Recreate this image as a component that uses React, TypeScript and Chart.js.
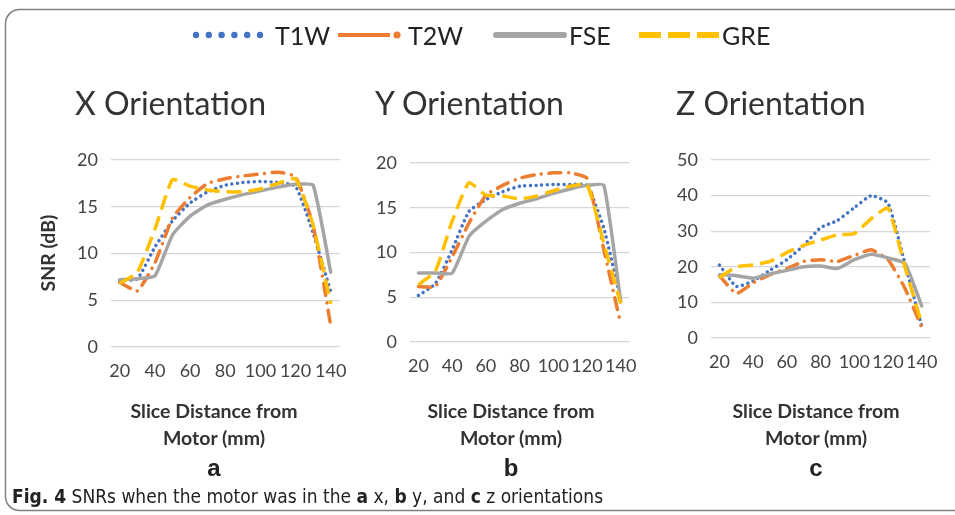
import React, { useEffect, useRef } from 'react';
import { Chart, registerables } from 'chart.js';

Chart.register(...registerables);

// ---------- data ----------
const categories = ['20', '30', '40', '50', '60', '70', '80', '90', '100', '110', '120', '130', '140'];
const shownTicks = ['20', '40', '60', '80', '100', '120', '140'];
const seriesNames = ['T1W', 'T2W', 'FSE', 'GRE'];

const xT1W = [7.1, 7.3, 10.7, 13.5, 15.4, 16.6, 17.3, 17.6, 17.7, 17.6, 17.2, 12.2, 5.9];
const xT2W = [6.9, 6.0, 9.0, 13.8, 16.0, 17.5, 18.0, 18.3, 18.5, 18.7, 18.2, 13.0, 2.3];
const xFSE = [7.2, 7.3, 7.6, 12.0, 14.0, 15.2, 15.8, 16.3, 16.7, 17.1, 17.4, 17.3, 8.0];
const xGRE = [6.8, 8.0, 12.6, 17.9, 17.2, 16.8, 16.6, 16.6, 16.9, 17.5, 18.0, 13.0, 4.6];

const yT1W = [5.2, 6.5, 10.3, 14.6, 15.9, 16.8, 17.4, 17.5, 17.6, 17.6, 17.5, 12.7, 4.7];
const yT2W = [6.2, 6.2, 9.5, 13.3, 16.4, 17.5, 18.3, 18.7, 18.9, 18.9, 18.3, 10.3, 2.0];
const yFSE = [7.7, 7.7, 7.7, 11.8, 13.5, 14.8, 15.5, 16.0, 16.6, 17.1, 17.5, 17.5, 4.5];
const yGRE = [6.4, 7.9, 13.5, 17.8, 16.4, 16.3, 16.0, 16.3, 16.9, 17.4, 17.6, 11.0, 4.3];

const zT1W = [20.5, 14.5, 16.0, 19.0, 22.0, 26.0, 31.0, 33.0, 36.6, 40.0, 37.9, 21.0, 3.3];
const zT2W = [17.5, 12.5, 15.5, 17.8, 19.5, 21.5, 22.0, 21.5, 23.2, 24.8, 22.0, 14.0, 3.0];
const zFSE = [17.8, 17.5, 16.8, 18.0, 19.0, 20.0, 20.2, 19.5, 22.0, 23.5, 22.5, 21.0, 9.0];
const zGRE = [17.0, 20.0, 20.5, 21.5, 24.0, 26.0, 27.5, 29.0, 29.3, 33.5, 36.5, 20.0, 4.0];

const xTicksMax = 20;
const xTicksStep = 5;
const zTicksMax = 50;
const zTicksStep = 10;

// ---------- styles ----------
const COLORS = ['#4472C4', '#ED7D31', '#A5A5A5', '#FFC000'];
const DASHES: number[][] = [[0.01, 5.6], [12, 7.5, 0.01, 7.5], [], [15, 7]];
const CAPS = ['round', 'round', 'round', 'butt'];
const FONT = 'Lato, "Open Sans", sans-serif';

const YW = 60;
const PT = 25;
const PR = 16;
const XH = 48;

type Box = { left: number; right: number; top: number; bottom: number };

function LineChart({ box, series, yMax, yStep }: { box: Box; series: number[][]; yMax: number; yStep: number }) {
  const ref = useRef<HTMLCanvasElement | null>(null);
  const cLeft = box.left - YW;
  const cTop = box.top - PT;
  const cWidth = box.right - cLeft + PR;
  const cHeight = box.bottom - cTop + XH;

  useEffect(() => {
    if (!ref.current) return;
    const chart = new Chart(ref.current, {
      type: 'line',
      data: {
        labels: categories,
        datasets: series.map((d, i) => ({
          label: seriesNames[i],
          data: d,
          borderColor: COLORS[i],
          backgroundColor: COLORS[i],
          borderWidth: 3.5,
          borderDash: DASHES[i],
          borderCapStyle: CAPS[i] as any,
          borderJoinStyle: 'round' as any,
          pointRadius: 0,
          tension: 0.15,
          fill: false,
          order: 3 - i,
        })),
      },
      options: {
        animation: false,
        responsive: false,
        maintainAspectRatio: false,
        devicePixelRatio: 1,
        layout: { padding: { top: PT, right: PR, left: 0, bottom: 0 } },
        plugins: { legend: { display: false }, tooltip: { enabled: false }, title: { display: false } },
        scales: {
          x: {
            type: 'category',
            offset: true,
            grid: { display: false, drawTicks: false },
            border: { display: false },
            ticks: {
              autoSkip: false,
              maxRotation: 0,
              minRotation: 0,
              padding: 13,
              color: '#444',
              font: { family: FONT, size: 18 },
              callback: (_v: any, i: number) => (shownTicks.includes(categories[i]) ? categories[i] : ''),
            },
            afterFit: (s: any) => {
              s.height = XH;
            },
          },
          y: {
            min: 0,
            max: yMax,
            grid: { color: '#d6d6d6', lineWidth: 1.3, drawTicks: false },
            border: { display: false },
            ticks: { stepSize: yStep, padding: 13, color: '#444', font: { family: FONT, size: 18 } },
            afterFit: (s: any) => {
              s.width = YW;
            },
          },
        },
      },
    });
    return () => chart.destroy();
  }, []);

  return (
    <canvas
      ref={ref}
      width={cWidth}
      height={cHeight}
      style={{ position: 'absolute', left: cLeft, top: cTop, width: cWidth, height: cHeight }}
    />
  );
}

export default function App() {
  const titleStyle = { fontFamily: FONT, fontSize: 32, fill: '#333' } as any;
  const axisStyle = { fontFamily: FONT, fontSize: 19.5, fontWeight: 700, fill: '#333' } as any;
  const letterStyle = { fontFamily: '"Liberation Sans", Arial, sans-serif', fontSize: 24, fontWeight: 700, fill: '#222' } as any;
  const legendStyle = { fontFamily: FONT, fontSize: 25, fill: '#222' } as any;
  const captionFont = '"Liberation Sans Narrow", "DejaVu Sans Condensed", sans-serif';

  return (
    <div style={{ position: 'absolute', left: 0, top: 0, width: 955, height: 515, overflow: 'hidden', background: '#fff' }}>
      <LineChart box={{ left: 111, right: 344, top: 160, bottom: 347 }} series={[xT1W, xT2W, xFSE, xGRE]} yMax={xTicksMax} yStep={xTicksStep} />
      <LineChart box={{ left: 410, right: 634, top: 163, bottom: 342 }} series={[yT1W, yT2W, yFSE, yGRE]} yMax={xTicksMax} yStep={xTicksStep} />
      <LineChart box={{ left: 711, right: 935, top: 160, bottom: 338 }} series={[zT1W, zT2W, zFSE, zGRE]} yMax={zTicksMax} yStep={zTicksStep} />
      <svg width={955} height={515} style={{ position: 'absolute', left: 0, top: 0, pointerEvents: 'none' }}>
        <rect x={5.5} y={9.5} width={970} height={501} rx={14} ry={14} fill="none" stroke="#7f7f7f" strokeWidth={1.5} />

        {/* legend */}
        {[0, 1, 2, 3, 4, 5].map((i) => (
          <circle key={i} cx={196 + 12.8 * i} cy={35} r={3.2} fill={COLORS[0]} />
        ))}
        <text x={275} y={45} style={legendStyle}>{seriesNames[0]}</text>
        <line x1={338} y1={35} x2={390} y2={35} stroke={COLORS[1]} strokeWidth={4} />
        <circle cx={397} cy={35} r={3.6} fill={COLORS[1]} />
        <text x={408} y={45} style={legendStyle}>{seriesNames[1]}</text>
        <line x1={496} y1={35} x2={564} y2={35} stroke={COLORS[2]} strokeWidth={6} strokeLinecap="round" />
        <text x={569} y={45} style={legendStyle}>{seriesNames[2]}</text>
        <line x1={639} y1={35} x2={719} y2={35} stroke={COLORS[3]} strokeWidth={6} strokeDasharray="22 7" />
        <text x={722} y={45} style={legendStyle}>{seriesNames[3]}</text>

        {/* titles */}
        <text x={75} y={115} style={titleStyle}>X Orientation</text>
        <text x={375} y={115} style={titleStyle}>Y Orientation</text>
        <text x={676} y={115} style={titleStyle}>Z Orientation</text>

        {/* y axis title */}
        <text x={47} y={253} transform="rotate(-90 47 253)" textAnchor="middle" dominantBaseline="central" style={axisStyle}>SNR (dB)</text>

        {/* x axis titles */}
        {[214, 511, 816].map((cx, i) => (
          <g key={i}>
            <text x={cx} y={418} textAnchor="middle" style={axisStyle}>Slice Distance from</text>
            <text x={cx} y={445} textAnchor="middle" style={axisStyle}>Motor (mm)</text>
            <text x={cx} y={476} textAnchor="middle" style={letterStyle}>{['a', 'b', 'c'][i]}</text>
          </g>
        ))}

        {/* caption */}
        <text x={12} y={503} style={{ fontFamily: captionFont, fontSize: 19, fill: '#222' } as any}>
          <tspan fontWeight={700}>Fig. 4</tspan>
          <tspan>{'  SNRs when the motor was in the '}</tspan>
          <tspan fontWeight={700}>a</tspan>
          <tspan>{' x, '}</tspan>
          <tspan fontWeight={700}>b</tspan>
          <tspan>{' y, and '}</tspan>
          <tspan fontWeight={700}>c</tspan>
          <tspan>{' z orientations'}</tspan>
        </text>
      </svg>
    </div>
  );
}
